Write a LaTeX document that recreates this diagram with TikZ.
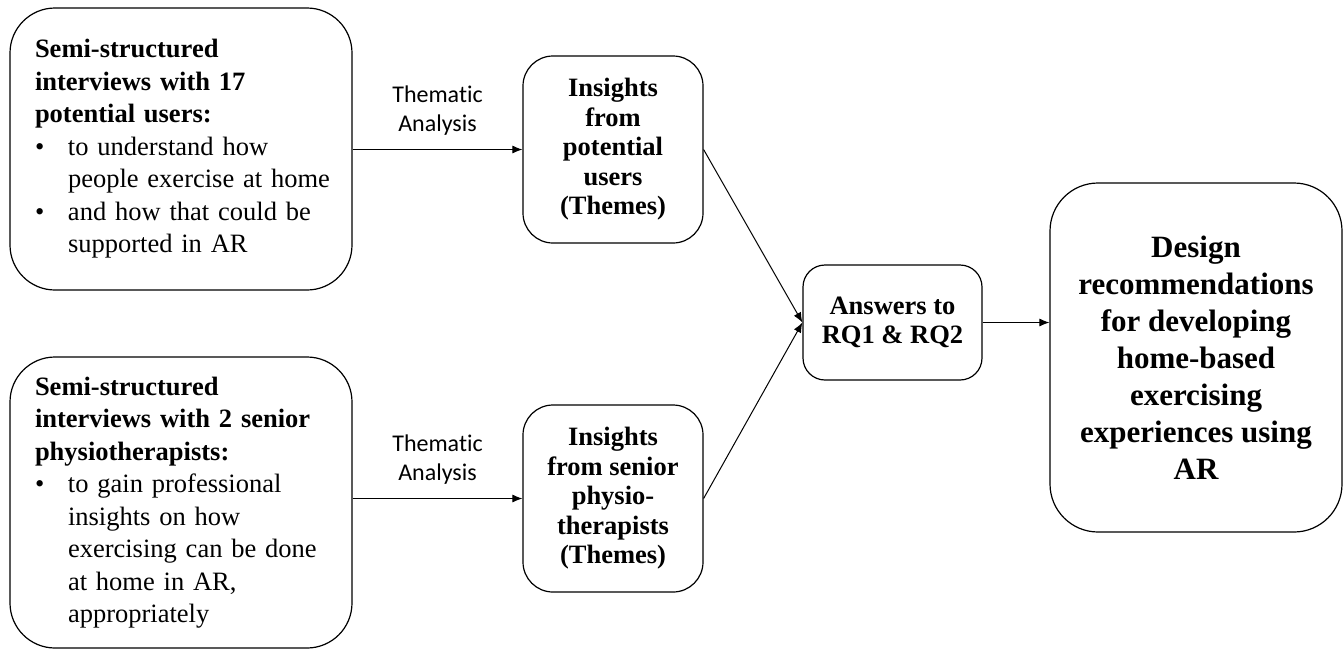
\documentclass[tikz,border=0pt]{standalone}
\usepackage{fontspec}
\setmainfont{Liberation Serif}
\newfontfamily\calibrifont[Ligatures=NoCommon]{Carlito}
\usetikzlibrary{arrows.meta}

\newcommand{\bul}{\makebox[33pt][l]{\textbullet}}
\newcommand{\ind}{\hspace*{33pt}}

\begin{document}
\begin{tikzpicture}[x=1pt,y=-1pt,
  roundbox/.style={draw,line width=1.2pt,rounded corners=#1,inner sep=0pt,
    font=\fontsize{26.5}{29.5}\selectfont},
  roundbox/.default=30pt,
  flowarrow/.style={line width=1pt,-{Latex[length=10pt,width=8pt]}},
  arrowlabel/.style={font=\calibrifont\fontsize{24}{29}\selectfont,align=center,inner sep=4pt}]
\useasboundingbox (0,0) rectangle (1343,649);

% interview boxes
\node[roundbox=45pt,minimum width=342pt,minimum height=282pt,text width=292pt,align=left,
  font=\fontsize{26.5}{32.5}\selectfont]
  (interA) at (181,149) {\textbf{Semi-structured\\interviews with 17\\potential users:}\\
  \bul\mbox{to understand how}\\ \ind\mbox{people exercise at home}\\
  \bul\mbox{and how that could be}\\ \ind\mbox{supported in AR}};
\node[roundbox=45pt,minimum width=342pt,minimum height=291pt,text width=292pt,align=left,
  font=\fontsize{26.5}{32.5}\selectfont]
  (interB) at (181,502.5) {\textbf{Semi-structured\\\mbox{interviews with 2 senior}\\physiotherapists:}\\
  \bul\mbox{to gain professional}\\ \ind\mbox{insights on how}\\ \ind\mbox{exercising can be done}\\
  \ind\mbox{at home in AR,}\\ \ind\mbox{appropriately}};

% themes
\node[roundbox,minimum width=180pt,minimum height=187pt,align=center,font=\fontsize{26.5}{29.5}\selectfont\bfseries]
  (themeA) at (613,149.5) {Insights\\from\\potential\\users\\(Themes)};
\node[roundbox,minimum width=180pt,minimum height=187pt,align=center,font=\fontsize{26.5}{29.5}\selectfont\bfseries]
  (themeB) at (613,498.5) {Insights\\from senior\\physio-\\therapists\\(Themes)};

% results
\node[roundbox=22pt,minimum width=179pt,minimum height=115pt,align=center,font=\fontsize{26.5}{29.5}\selectfont\bfseries]
  (answers) at (892.5,322.5) {Answers to\\RQ1 \& RQ2};
\node[roundbox=48pt,minimum width=292pt,minimum height=349pt,align=center,font=\fontsize{31}{37}\selectfont\bfseries]
  (design) at (1196,357.5) {Design\\recommendations\\for developing\\home-based\\exercising\\experiences using\\AR};

% connectors
\draw[flowarrow] (themeA.west -| interA.east) -- node[arrowlabel,above=10pt]{Thematic\\Analysis} (themeA.west);
\draw[flowarrow] (themeB.west -| interB.east) -- node[arrowlabel,above=10pt]{Thematic\\Analysis} (themeB.west);
\draw[flowarrow] (themeA.east) -- (answers.west);
\draw[flowarrow] (themeB.east) -- (answers.west);
\draw[flowarrow] (answers.east) -- (design.west |- answers.east);
\end{tikzpicture}
\end{document}
